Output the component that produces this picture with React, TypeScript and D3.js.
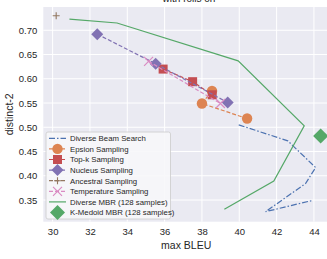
import React, { useRef, useEffect } from "react";
import * as d3 from "d3";

// values: [max BLEU, distinct-2]
const beamSearch = [[39.97, 0.505], [42.6, 0.472], [44.09, 0.417], [43.55, 0.384], [41.41, 0.326], [43.91, 0.349]];
const epsilon = [[38.54, 0.575], [38.0, 0.549], [40.42, 0.518]];
const topK = [[35.92, 0.62], [37.5, 0.594], [38.55, 0.567]];
const nucleus = [[32.39, 0.692], [35.52, 0.631], [39.38, 0.551]];
const ancestral = [[30.19, 0.73]];
const temperature = [[35.14, 0.636], [38.99, 0.549]];
const diverseMbr = [[30.9, 0.723], [33.45, 0.715], [39.94, 0.637], [43.48, 0.503], [41.85, 0.389], [39.2, 0.331]];
const kMedoid = [[44.36, 0.482]];

const xTicks = [30, 32, 34, 36, 38, 40, 42, 44];
const yTicks = [0.35, 0.4, 0.45, 0.5, 0.55, 0.6, 0.65, 0.7];

const series = [
  { name: "Diverse Beam Search", data: beamSearch, color: "#4C72B0", dash: "6,2,1.5,2", marker: "none" },
  { name: "Epsion Sampling", data: epsilon, color: "#DD8452", dash: "4,2", marker: "circle" },
  { name: "Top-k Sampling", data: topK, color: "#C44E52", dash: "4,2", marker: "square" },
  { name: "Nucleus Sampling", data: nucleus, color: "#8172B3", dash: "4,2", marker: "diamond" },
  { name: "Ancestral Sampling", data: ancestral, color: "#937860", dash: "4,2", marker: "plus" },
  { name: "Temperature Sampling", data: temperature, color: "#DA8BC3", dash: "4,2", marker: "x" },
  { name: "Diverse MBR (128 samples)", data: diverseMbr, color: "#55A868", dash: null, marker: "none" },
  { name: "K-Medoid MBR (128 samples)", data: kMedoid, color: "#55A868", dash: null, marker: "bigdiamond", noLine: true },
];

function drawMarker(g, kind, x, y, color) {
  if (kind === "circle") {
    g.append("circle").attr("cx", x).attr("cy", y).attr("r", 5.2).attr("fill", color);
  } else if (kind === "square") {
    g.append("rect").attr("x", x - 4.5).attr("y", y - 4.5).attr("width", 9).attr("height", 9).attr("fill", color);
  } else if (kind === "diamond" || kind === "bigdiamond") {
    const s = kind === "diamond" ? 6 : 7.5;
    g.append("path")
      .attr("d", `M${x},${y - s}L${x + s},${y}L${x},${y + s}L${x - s},${y}Z`)
      .attr("fill", color);
  } else if (kind === "plus") {
    g.append("path")
      .attr("d", `M${x - 3.5},${y}H${x + 3.5}M${x},${y - 3.5}V${y + 3.5}`)
      .attr("stroke", color).attr("stroke-width", 1.1);
  } else if (kind === "x") {
    g.append("path")
      .attr("d", `M${x - 4.5},${y - 4.5}L${x + 4.5},${y + 4.5}M${x - 4.5},${y + 4.5}L${x + 4.5},${y - 4.5}`)
      .attr("stroke", color).attr("stroke-width", 1.2);
  }
}

function App() {
  const svgRef = useRef();

  useEffect(() => {
    document.body.style.margin = "0";
    const w = 327;
    const h = 259;
    const left = 43.3, right = 327, top = 7, bottom = 221.7;
    const font = "'Liberation Sans', Arial, sans-serif";

    const svg = d3.select(svgRef.current).attr("width", w).attr("height", h);
    svg.selectAll("*").remove();
    svg.append("rect").attr("width", w).attr("height", h).attr("fill", "#fff");

    const xScale = d3.scaleLinear().domain([29.5, 44.7]).range([left, right]);
    const yScale = d3.scaleLinear().domain([0.3053, 0.748]).range([bottom, top]);

    svg.append("text")
      .attr("x", 189).attr("y", 2)
      .attr("text-anchor", "middle")
      .attr("font-family", font).attr("font-size", 10).attr("fill", "#222")
      .text("with rolls on");

    svg.append("rect")
      .attr("x", left).attr("y", top)
      .attr("width", right - left).attr("height", bottom - top)
      .attr("fill", "#EAEAF2");

    const grid = svg.append("g").attr("stroke", "#fff").attr("stroke-width", 1);
    xTicks.forEach((t) => grid.append("line")
      .attr("x1", xScale(t)).attr("x2", xScale(t)).attr("y1", top).attr("y2", bottom));
    yTicks.forEach((t) => grid.append("line")
      .attr("y1", yScale(t)).attr("y2", yScale(t)).attr("x1", left).attr("x2", right));

    const xAxis = d3.axisBottom(xScale).tickValues(xTicks).tickSize(0).tickPadding(7).tickFormat(d3.format("d"));
    const yAxis = d3.axisLeft(yScale).tickValues(yTicks).tickSize(0).tickPadding(6).tickFormat(d3.format(".2f"));
    const gx = svg.append("g").attr("transform", `translate(0, ${bottom})`).call(xAxis);
    const gy = svg.append("g").attr("transform", `translate(${left}, 0)`).call(yAxis);
    [gx, gy].forEach((g) => {
      g.select(".domain").remove();
      g.selectAll("text").attr("font-family", font).attr("font-size", 9.5).attr("fill", "#262626");
    });

    svg.append("text")
      .attr("x", (left + right) / 2 + 1).attr("y", 249)
      .attr("text-anchor", "middle")
      .attr("font-family", font).attr("font-size", 10.5).attr("fill", "#262626")
      .text("max BLEU");
    svg.append("text")
      .attr("transform", `translate(13, ${(top + bottom) / 2}) rotate(-90)`)
      .attr("text-anchor", "middle")
      .attr("font-family", font).attr("font-size", 10.5).attr("fill", "#262626")
      .text("distinct-2");

    const plot = svg.append("g");
    const line = d3.line().x((d) => xScale(d[0])).y((d) => yScale(d[1]));
    series.forEach((s) => {
      if (!s.noLine) {
        plot.append("path")
          .attr("d", line(s.data))
          .attr("fill", "none")
          .attr("stroke", s.color)
          .attr("stroke-width", 1.2)
          .attr("stroke-dasharray", s.dash);
      }
      s.data.forEach((d) => drawMarker(plot, s.marker, xScale(d[0]), yScale(d[1]), s.color));
    });

    // legend
    const lx = 46, ly = 132, rowH = 10.6;
    const legend = svg.append("g");
    legend.append("rect")
      .attr("x", lx).attr("y", ly)
      .attr("width", 124.5).attr("height", 87)
      .attr("rx", 2)
      .attr("fill", "#F7F7FA").attr("fill-opacity", 0.9)
      .attr("stroke", "#CCCCCC").attr("stroke-width", 0.8);
    series.forEach((s, i) => {
      const cy = ly + 6.3 + i * rowH;
      if (!s.noLine) {
        legend.append("line")
          .attr("x1", lx + 3).attr("x2", lx + 20)
          .attr("y1", cy).attr("y2", cy)
          .attr("stroke", s.color).attr("stroke-width", 1.2)
          .attr("stroke-dasharray", s.dash);
      }
      drawMarker(legend, s.marker, lx + 11.5, cy, s.color);
      legend.append("text")
        .attr("x", lx + 24).attr("y", cy + 2.8)
        .attr("font-family", font).attr("font-size", 7.8).attr("fill", "#262626")
        .text(s.name);
    });
  }, []);

  return <svg ref={svgRef} style={{ display: "block" }}></svg>;
}

export default App;
